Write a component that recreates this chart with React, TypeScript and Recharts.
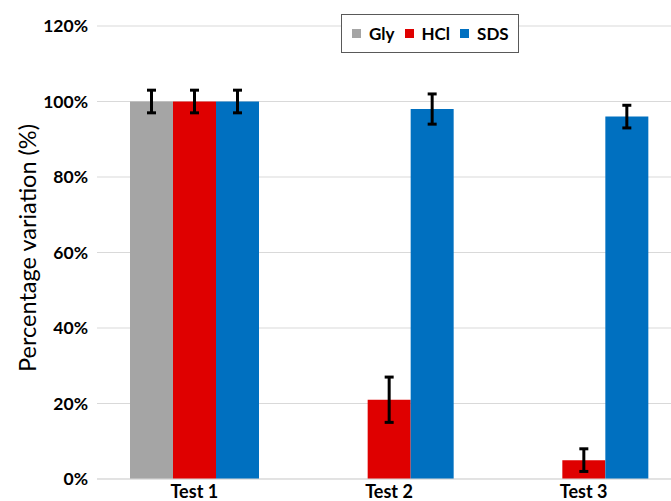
import React from "react";
import { BarChart, Bar, XAxis, YAxis, CartesianGrid, ErrorBar } from "recharts";

const categories = ["Test 1", "Test 2", "Test 3"];
const glyValues: (number | null)[] = [100, null, null];
const glyErrors: (number | null)[] = [3, null, null];
const hclValues = [100, 21, 5];
const hclErrors = [3, 6, 3];
const sdsValues = [100, 98, 96];
const sdsErrors = [3, 4, 3];
const yTicks = [0, 20, 40, 60, 80, 100, 120];

const series = [
  { key: "gly", name: "Gly", color: "#a5a5a5" },
  { key: "hcl", name: "HCl", color: "#df0000" },
  { key: "sds", name: "SDS", color: "#0070c0" },
];

const data = categories.map((c, i) => ({
  name: c,
  gly: glyValues[i],
  glyErr: glyErrors[i],
  hcl: hclValues[i],
  hclErr: hclErrors[i],
  sds: sdsValues[i],
  sdsErr: sdsErrors[i],
}));

const FONT = "Lato, 'Open Sans', sans-serif";

const YTick = (props: any) => {
  const { y, payload } = props;
  return (
    <text x={88} y={y} dy="0.36em" textAnchor="end" fontFamily={FONT} fontWeight={700} fontSize={17.5} fill="#000">
      {payload.value}%
    </text>
  );
};

const XTick = (props: any) => {
  const { x, payload } = props;
  return (
    <text x={x} y={498} textAnchor="middle" fontFamily={FONT} fontWeight={700} fontSize={18} fill="#000">
      {payload.value}
    </text>
  );
};

const YLabel = () => (
  <text
    x={0}
    y={0}
    transform="translate(36, 248) rotate(-90)"
    textAnchor="middle"
    fontFamily={FONT}
    fontSize={23.5}
    fill="#000"
  >
    Percentage variation (%)
  </text>
);

const LegendBox = () => (
  <div
    style={{
      position: "absolute",
      left: 341,
      top: 14,
      width: 178,
      height: 39,
      border: "1px solid #595959",
      background: "#fff",
      boxSizing: "border-box",
      display: "flex",
      alignItems: "center",
      paddingLeft: 10,
      fontFamily: FONT,
      fontWeight: 700,
      fontSize: 17,
      color: "#000",
    }}
  >
    {series.map((s) => (
      <div key={s.key} style={{ display: "flex", alignItems: "center", marginRight: 10 }}>
        <span style={{ display: "inline-block", width: 9, height: 9, background: s.color, marginRight: 8 }} />
        <span>{s.name}</span>
      </div>
    ))}
  </div>
);

export default function App() {
  return (
    <div style={{ position: "absolute", left: 0, top: 0, width: 671, height: 501, overflow: "hidden", background: "#fff" }}>
      <BarChart
        width={700}
        height={501}
        data={data}
        margin={{ top: 26, right: 19, bottom: 0, left: 0 }}
        barCategoryGap={33}
        barGap={0}
      >
        <CartesianGrid vertical={false} stroke="#d9d9d9" strokeWidth={1} />
        <XAxis
          dataKey="name"
          height={22}
          axisLine={{ stroke: "#d9d9d9" }}
          tickLine={false}
          tick={<XTick />}
          interval={0}
        />
        <YAxis
          width={97}
          domain={[0, 120]}
          ticks={yTicks}
          axisLine={false}
          tickLine={false}
          tick={<YTick />}
          label={{ content: <YLabel /> }}
          interval={0}
        />
        {series.map((s) => (
          <Bar key={s.key} dataKey={s.key} name={s.name} fill={s.color} isAnimationActive={false}>
            <ErrorBar dataKey={s.key + "Err"} width={4.5} strokeWidth={3} stroke="#000" direction="y" />
          </Bar>
        ))}
      </BarChart>
      <LegendBox />
    </div>
  );
}
